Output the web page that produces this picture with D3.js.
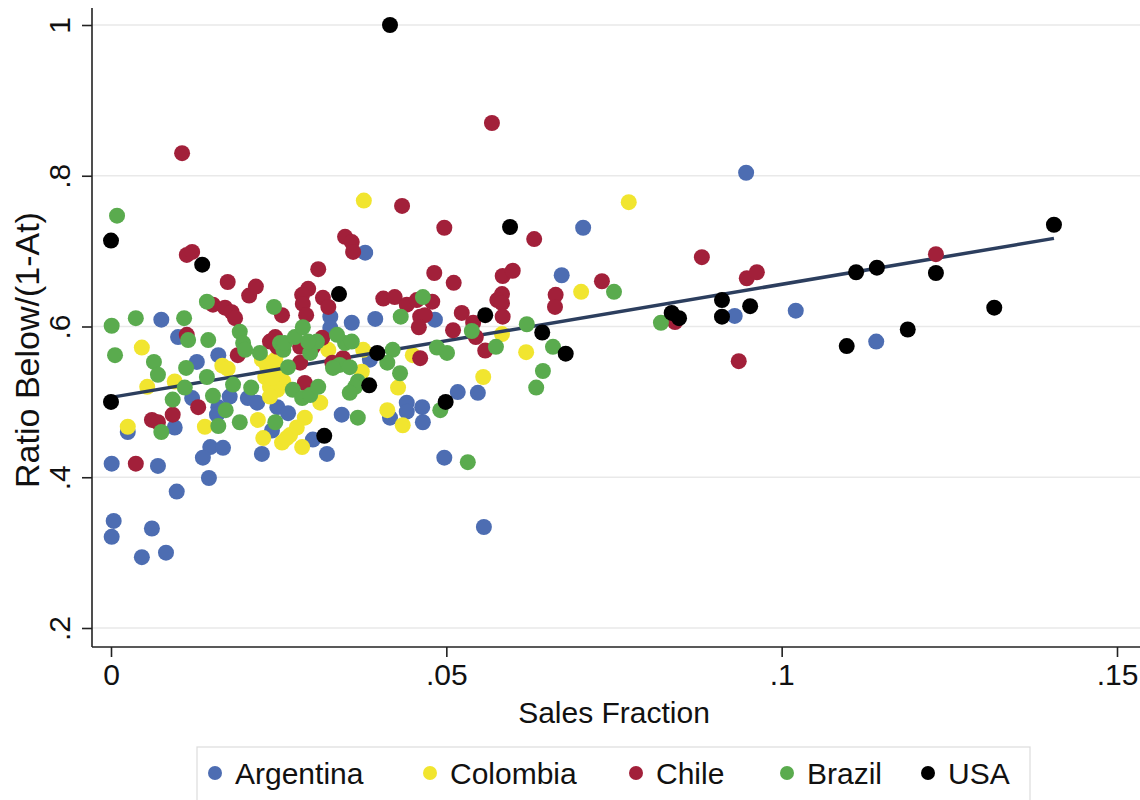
<!DOCTYPE html>
<html>
<head>
<meta charset="utf-8">
<script src="https://cdn.jsdelivr.net/npm/d3@7"></script>
<style>
  html, body { margin: 0; padding: 0; background: #fff; }
  svg { display: block; font-family: "Liberation Sans", Arial, Helvetica, sans-serif; }
</style>
</head>
<body>
<svg id="chart" width="1140" height="800"></svg>
<script>
// Sales fraction (x) and ratio below/(1-At) (y), one array per country
const argentina = [
  [0.0075,0.609],[0.0100,0.586],[0.0160,0.562],[0.0128,0.553],[0.0121,0.505],[0.0177,0.507],
  [0.0204,0.505],[0.0218,0.499],[0.0248,0.493],[0.0160,0.493],[0.0158,0.483],[0.0095,0.466],
  [0.0025,0.460],[0.0240,0.462],[0.0148,0.440],[0.0167,0.439],[0.0137,0.426],[0.0225,0.431],
  [0.0001,0.418],[0.0070,0.415],[0.0146,0.399],[0.0098,0.381],[0.0004,0.342],[0.0001,0.321],
  [0.0061,0.332],[0.0046,0.294],[0.0082,0.300],[0.0327,0.613],[0.0359,0.605],[0.0394,0.610],
  [0.0483,0.609],[0.0327,0.598],[0.0379,0.698],[0.0386,0.556],[0.0264,0.485],[0.0301,0.450],
  [0.0322,0.431],[0.0344,0.483],[0.0416,0.479],[0.0441,0.499],[0.0441,0.487],[0.0464,0.493],
  [0.0465,0.473],[0.0517,0.513],[0.0497,0.426],[0.0547,0.512],[0.0556,0.334],[0.0704,0.731],
  [0.0672,0.668],[0.0947,0.804],[0.0930,0.614],[0.1021,0.621],[0.1141,0.580]
];
const colombia = [
  [0.0377,0.767],[0.0772,0.765],[0.0701,0.646],[0.0046,0.572],[0.0166,0.548],[0.0174,0.544],
  [0.0233,0.546],[0.0230,0.533],[0.0237,0.520],[0.0248,0.516],[0.0257,0.527],[0.0245,0.556],
  [0.0252,0.538],[0.0225,0.556],[0.0240,0.532],[0.0095,0.527],[0.0054,0.520],[0.0237,0.507],
  [0.0140,0.467],[0.0025,0.467],[0.0219,0.476],[0.0227,0.452],[0.0255,0.446],[0.0324,0.569],
  [0.0376,0.569],[0.0450,0.562],[0.0374,0.540],[0.0428,0.519],[0.0312,0.499],[0.0289,0.479],
  [0.0277,0.466],[0.0267,0.456],[0.0285,0.440],[0.0412,0.489],[0.0435,0.469],[0.0583,0.590],
  [0.0619,0.566],[0.0555,0.533],[0.0262,0.452]
];
const chile = [
  [0.0106,0.830],[0.0568,0.870],[0.0434,0.760],[0.0497,0.731],[0.0349,0.719],[0.0359,0.712],
  [0.0361,0.699],[0.0309,0.676],[0.0113,0.695],[0.0121,0.699],[0.0174,0.659],[0.0206,0.641],
  [0.0216,0.653],[0.0152,0.629],[0.0170,0.625],[0.0180,0.619],[0.0185,0.611],[0.0255,0.615],
  [0.0294,0.650],[0.0285,0.642],[0.0286,0.630],[0.0291,0.615],[0.0316,0.638],[0.0324,0.626],
  [0.0482,0.671],[0.0511,0.658],[0.0406,0.637],[0.0423,0.639],[0.0441,0.629],[0.0456,0.635],
  [0.0479,0.633],[0.0523,0.618],[0.0461,0.613],[0.0468,0.615],[0.0510,0.595],[0.0113,0.589],
  [0.0245,0.586],[0.0237,0.580],[0.0248,0.573],[0.0189,0.562],[0.0130,0.493],[0.0061,0.476],
  [0.0070,0.473],[0.0092,0.483],[0.0037,0.418],[0.0282,0.573],[0.0301,0.573],[0.0282,0.552],
  [0.0330,0.552],[0.0346,0.558],[0.0461,0.558],[0.0289,0.525],[0.0315,0.585],[0.0584,0.667],
  [0.0599,0.674],[0.0583,0.643],[0.0576,0.635],[0.0583,0.631],[0.0631,0.716],[0.0732,0.660],
  [0.0663,0.642],[0.0662,0.626],[0.0584,0.613],[0.0540,0.605],[0.0544,0.586],[0.0558,0.568],
  [0.0841,0.606],[0.0881,0.692],[0.0948,0.664],[0.0963,0.672],[0.0936,0.554],[0.1230,0.696],
  [0.0459,0.599]
];
const brazil = [
  [0.0009,0.747],[0.0001,0.601],[0.0037,0.611],[0.0109,0.611],[0.0143,0.633],[0.0243,0.626],
  [0.0192,0.593],[0.0115,0.582],[0.0145,0.582],[0.0197,0.578],[0.0200,0.569],[0.0252,0.578],
  [0.0257,0.569],[0.0006,0.562],[0.0222,0.565],[0.0064,0.553],[0.0070,0.536],[0.0112,0.545],
  [0.0143,0.533],[0.0110,0.519],[0.0182,0.523],[0.0209,0.519],[0.0092,0.503],[0.0152,0.508],
  [0.0171,0.489],[0.0075,0.460],[0.0160,0.468],[0.0192,0.473],[0.0245,0.473],[0.0259,0.578],
  [0.0274,0.586],[0.0286,0.599],[0.0297,0.565],[0.0307,0.580],[0.0264,0.546],[0.0349,0.578],
  [0.0359,0.580],[0.0341,0.549],[0.0356,0.546],[0.0420,0.569],[0.0412,0.552],[0.0486,0.572],
  [0.0501,0.565],[0.0431,0.538],[0.0368,0.527],[0.0364,0.520],[0.0356,0.512],[0.0271,0.516],
  [0.0285,0.505],[0.0297,0.509],[0.0309,0.520],[0.0368,0.479],[0.0491,0.489],[0.0532,0.420],
  [0.0465,0.639],[0.0432,0.613],[0.0337,0.589],[0.0331,0.545],[0.0538,0.594],[0.0620,0.603],
  [0.0574,0.573],[0.0659,0.573],[0.0644,0.541],[0.0634,0.519],[0.0750,0.646],[0.0820,0.605],
  [0.0294,0.580]
];
const usa = [
  [0.0000,0.714],[0.0000,0.500],[0.0136,0.682],[0.0416,1.000],[0.0340,0.643],[0.0318,0.455],
  [0.0397,0.565],[0.0385,0.522],[0.0499,0.500],[0.0558,0.615],[0.0595,0.732],[0.0643,0.592],
  [0.0678,0.564],[0.0836,0.618],[0.0847,0.611],[0.0911,0.635],[0.0911,0.613],[0.0953,0.627],
  [0.1097,0.574],[0.1111,0.672],[0.1142,0.678],[0.1188,0.596],[0.1230,0.671],[0.1317,0.625],
  [0.1406,0.735]
];

const countries = ["Argentina", "Colombia", "Chile", "Brazil", "USA"];
const colors = ["#4d6db2", "#f1e52f", "#a2203a", "#5aab4e", "#000000"];
const seriesData = [argentina, colombia, chile, brazil, usa];

const xTicks = [0, 0.05, 0.1, 0.15];
const xTickLabels = ["0", ".05", ".1", ".15"];
const yTicks = [0.2, 0.4, 0.6, 0.8, 1];
const yTickLabels = [".2", ".4", ".6", ".8", "1"];

// Linear fit over the pooled sample
const fitIntercept = 0.506;
const fitSlope = 1.50;
const fitRange = [0, 0.1406];

const svg = d3.select("#chart");
const frame = { left: 92, right: 1140, top: 8, bottom: 647 };

const x = d3.scaleLinear().domain([0, 0.15]).range([111, 1117]);
const y = d3.scaleLinear().domain([0.2, 1]).range([628, 25]);

// horizontal grid
svg.append("g")
  .selectAll("line")
  .data(yTicks)
  .join("line")
  .attr("x1", frame.left).attr("x2", frame.right)
  .attr("y1", d => y(d)).attr("y2", d => y(d))
  .attr("stroke", "#e9e9e9").attr("stroke-width", 1.5);

// axes
const yAxis = svg.append("g")
  .attr("transform", `translate(${frame.left},0)`)
  .call(d3.axisLeft(y).tickValues(yTicks).tickFormat((d, i) => yTickLabels[i]).tickSize(10).tickPadding(8));
yAxis.select(".domain").attr("d", `M0,${frame.top}V${frame.bottom}`).attr("stroke", "#222").attr("stroke-width", 1.6);
yAxis.selectAll(".tick line").attr("stroke", "#222").attr("stroke-width", 1.6);
yAxis.selectAll(".tick text")
  .attr("font-size", 30).attr("fill", "#111")
  .attr("text-anchor", "middle")
  .attr("x", 0).attr("dy", 0)
  .attr("transform", "translate(-22,0) rotate(-90)");

const xAxis = svg.append("g")
  .attr("transform", `translate(0,${frame.bottom})`)
  .call(d3.axisBottom(x).tickValues(xTicks).tickFormat((d, i) => xTickLabels[i]).tickSize(10).tickPadding(7));
xAxis.select(".domain").attr("d", `M${frame.left},0H${frame.right}`).attr("stroke", "#222").attr("stroke-width", 1.6);
xAxis.selectAll(".tick line").attr("stroke", "#222").attr("stroke-width", 1.6);
xAxis.selectAll(".tick text").attr("font-size", 30).attr("fill", "#111");

// axis titles
svg.append("text")
  .attr("x", (111 + 1117) / 2).attr("y", 723)
  .attr("text-anchor", "middle").attr("font-size", 30).attr("fill", "#111")
  .text("Sales Fraction");
svg.append("text")
  .attr("transform", "translate(39,350) rotate(-90)")
  .attr("text-anchor", "middle").attr("font-size", 34).attr("fill", "#111")
  .text("Ratio Below/(1-At)");

const plot = svg.append("g");
function drawSeries(i) {
  plot.append("g")
    .selectAll("circle")
    .data(seriesData[i])
    .join("circle")
    .attr("cx", d => x(d[0]))
    .attr("cy", d => y(d[1]))
    .attr("r", 8)
    .attr("fill", colors[i]);
}
drawSeries(0);
drawSeries(1);
// fitted line
plot.append("line")
  .attr("x1", x(fitRange[0])).attr("y1", y(fitIntercept + fitSlope * fitRange[0]))
  .attr("x2", x(fitRange[1])).attr("y2", y(fitIntercept + fitSlope * fitRange[1]))
  .attr("stroke", "#2c3e5e").attr("stroke-width", 3.5);
drawSeries(2);
drawSeries(3);
drawSeries(4);

// legend
const legend = svg.append("g");
legend.append("rect")
  .attr("x", 197).attr("y", 747).attr("width", 833).attr("height", 60)
  .attr("fill", "#fff").attr("stroke", "#dcdcdc").attr("stroke-width", 1.2);
const legendX = [215, 430, 636, 787, 928];
countries.forEach((c, i) => {
  legend.append("circle").attr("cx", legendX[i]).attr("cy", 773).attr("r", 7).attr("fill", colors[i]);
  legend.append("text").attr("x", legendX[i] + 20).attr("y", 784)
    .attr("font-size", 30).attr("fill", "#111").text(c);
});
</script>
</body>
</html>
